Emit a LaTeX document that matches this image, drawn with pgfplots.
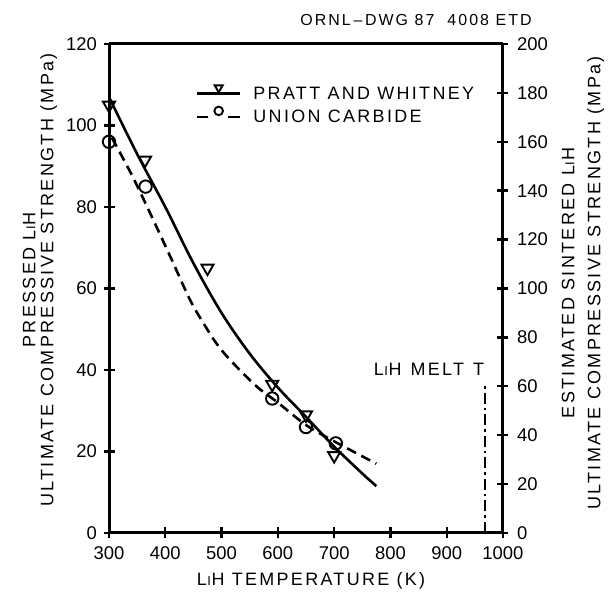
\documentclass[border=0pt]{standalone}
\usepackage{fontspec}
\setmainfont{Liberation Sans}
\newfontfamily\lab[LetterSpace=13]{Liberation Sans}
\usepackage{pgfplots}
\pgfplotsset{compat=1.18}
\newcommand\LiH{L\kern0.6bp{\fontsize{13}{13}\selectfont I}\kern0.6bp H}
\newcommand\labfont{\lab\fontsize{18}{18}\selectfont}
\newcommand\labskip[1]{\lab\fontsize{18bp}{#1}\selectfont}

\pgfplotsset{
  frame/.style={
    at={(109bp,70bp)}, anchor=south west,
    width=394bp, height=489bp, scale only axis,
    xmin=300, xmax=1000,
    tick align=center, major tick length=11bp,
    axis line style={line width=3bp, -},
    major tick style={line width=2.4bp, black},
    tick label style={font=\fontsize{18.5}{18.5}\selectfont},
    /pgf/number format/assume math mode=true,
    /pgf/number format/1000 sep={},
    clip=false,
  },
  pw/.style={mark=triangle, mark size=7bp,
    mark options={rotate=180, line width=1.9bp, fill=white, solid}},
  uc/.style={mark=o, mark size=6.2bp,
    mark options={line width=1.9bp, fill=white, solid}},
  pwleg/.style={legend image code/.code={
    \draw[##1, mark=none] (0bp,0bp) -- (43bp,0bp);
    \draw[##1, mark size=4.6bp] plot coordinates {(21.5bp,6bp)};}},
  ucleg/.style={legend image code/.code={
    \draw[##1, mark=none] (0bp,0bp) -- (11bp,0bp);
    \draw[##1, mark=none] (31bp,0bp) -- (43bp,0bp);
    \draw[##1, mark size=4.3bp] plot coordinates {(21.5bp,6bp)};}},
}

\begin{document}
\begin{tikzpicture}
\useasboundingbox (0,0) rectangle (612bp,603bp);
% left and bottom axes
\begin{axis}[frame,
  axis x line*=bottom, axis y line*=left,
  ymin=0, ymax=120,
  xtick={300,400,500,600,700,800,900,1000},
  ytick={0,20,40,60,80,100,120},
  xticklabel style={yshift=-5bp},
  yticklabel style={xshift=-3bp},
]
\end{axis}

% tick marks of the left axis (box placed left of the plot, its right line on the left axis)
\begin{axis}[frame, anchor=south east,
  axis x line=none, axis y line*=right,
  ymin=0, ymax=120, ytick={0,20,40,60,80,100,120}, yticklabels={},
]
\end{axis}

% tick marks of the bottom axis (box placed below the plot, its top line on the bottom axis)
\begin{axis}[frame, anchor=north west,
  axis x line*=top, axis y line=none,
  ymin=0, ymax=120,
  xtick={300,400,500,600,700,800,900,1000}, xticklabels={},
]
\end{axis}

% right and top axes
\begin{axis}[frame,
  axis x line*=top, axis y line*=right,
  xtick=\empty,
  ymin=0, ymax=200, ytick={0,20,...,200},
  yticklabel style={xshift=5bp},
]
\end{axis}

% data
\begin{axis}[frame, hide axis,
  ymin=0, ymax=120,
  legend style={draw=none, fill=none, inner sep=0pt,
    at={(axis description cs:0.22,0.917)}, anchor=north west,
    font=\labfont, row sep=4bp, legend cell align=left,
    /tikz/every odd column/.style={column sep=10bp}},
]
\addlegendimage{line width=2.6bp, pw, pwleg}
\addlegendentry{PRATT AND WHITNEY}
\addlegendimage{line width=2.6bp, uc, ucleg}
\addlegendentry{UNION CARBIDE}

% fitted curves
\addplot[line width=2.6bp, smooth, tension=0.55, forget plot] coordinates {
 (300,107) (350,93) (400,80) (450,66.2) (500,54) (550,44) (600,35.7)
 (650,28.5) (700,21.2) (750,14.6) (775,11.5)};
\addplot[line width=2.6bp, dash pattern=on 10bp off 6bp, smooth, tension=0.55, forget plot] coordinates {
 (305,97) (340,88) (373,78.5) (410,67.5) (444,57.2) (470,51) (491,46.5)
 (515,42.5) (562,36) (600,32) (650,26.5) (700,22.5) (775,17)};

% data points
\addplot[only marks, pw, forget plot] coordinates {
 (300,105) (364,91.5) (475,65) (590,36.5) (650,29) (700,19)};
\addplot[only marks, uc, forget plot] coordinates {
 (300,96) (365,85) (590,33) (650,26) (703,22)};

% melting temperature
\addplot[line width=2.6bp, dash pattern=on 11bp off 4bp on 2.5bp off 4bp, forget plot]
 coordinates {(968,0) (968,36.3)};
\end{axis}

\node at (416bp,583bp) {\lab\fontsize{16}{16}\selectfont ORNL\,–\,DWG 87\ \ 4008 ETD};
\node at (311bp,22bp) {\labfont\LiH\ TEMPERATURE (K)};
\node[rotate=90, align=center, font={\labskip{18bp}}] at (40bp,323bp)
 {PRESSED \LiH\\ULTIMATE COMPRESSIVE STRENGTH (MPa)};
\node[rotate=90, align=center, font={\labskip{26bp}}] at (583bp,320bp)
 {ESTIMATED SINTERED \LiH\\ULTIMATE COMPRESSIVE STRENGTH (MPa)};
\node at (429bp,234bp) {\labfont\LiH\hspace{9bp}MELT\hspace{9bp}T};
\end{tikzpicture}
\end{document}
